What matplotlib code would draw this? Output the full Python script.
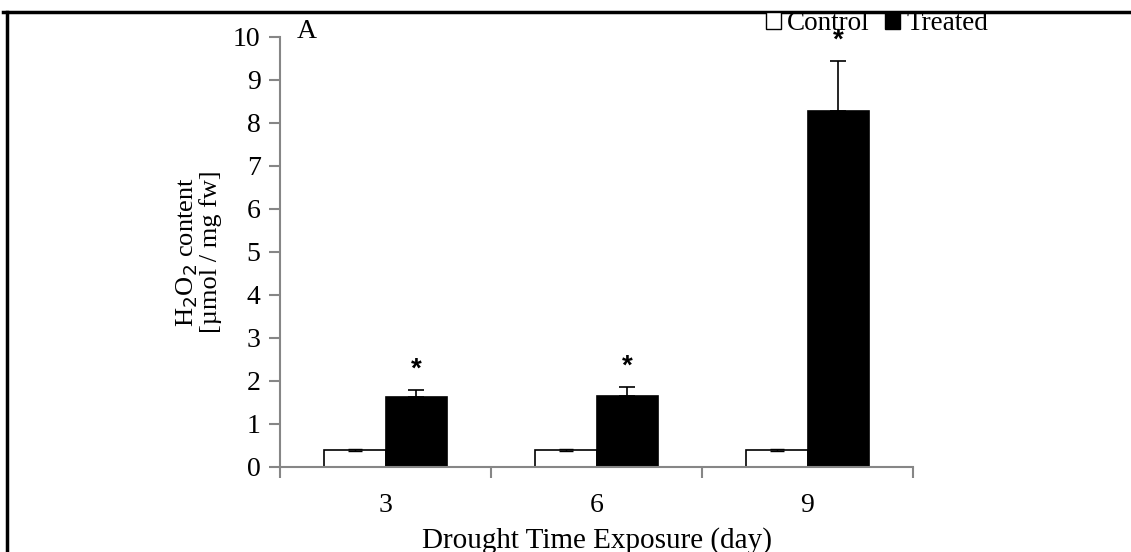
import numpy as np
from matplotlib import pyplot as plt
from matplotlib.lines import Line2D
from matplotlib.patches import Patch

dias = ["3", "6", "9"]
control = [0.40, 0.40, 0.40]
control_err = [0.02, 0.02, 0.02]
tratado = [1.62, 1.65, 8.27]
tratado_err = [0.18, 0.22, 1.18]
significativo = [True, True, True]

plt.rcParams['font.family'] = ['Liberation Serif', 'DejaVu Serif']
gris = '#868686'

fig = plt.figure(figsize=(11.31, 5.52), dpi=100)
ax = fig.add_axes([0.2476, 0.154, 0.5597, 0.779])

x = np.arange(len(dias))
ancho = 0.29
ax.bar(x - ancho / 2, control, ancho, color='white', edgecolor='black', linewidth=1.2,
       yerr=control_err, error_kw=dict(ecolor='black', elinewidth=1, capsize=5, capthick=1))
ax.bar(x + ancho / 2, tratado, ancho, color='black', edgecolor='black', linewidth=1.2,
       yerr=[np.zeros(3), tratado_err], error_kw=dict(ecolor='black', elinewidth=1.2, capsize=6, capthick=1.2))

for i, sig in enumerate(significativo):
    if sig:
        ax.annotate('*', (x[i] + ancho / 2, tratado[i] + tratado_err[i]), xytext=(0, 5),
                    textcoords='offset points', ha='center', va='bottom', fontsize=20,
                    fontweight='bold', family='Liberation Sans', annotation_clip=False)

ax.set_xlim(-0.5, 2.5)
ax.set_ylim(0, 10)
ax.set_yticks(range(0, 11))
ax.set_xticks(x)
ax.set_xticklabels(dias)
ax.set_xticks([-0.5, 0.5, 1.5, 2.5], minor=True)
ax.tick_params(axis='x', which='major', length=0, labelsize=20, pad=19)
ax.tick_params(axis='x', which='minor', length=8, color=gris, width=1.5)
ax.tick_params(axis='y', length=8, color=gris, width=1.5, labelsize=20, pad=6)

for lado in ['top', 'right']:
    ax.spines[lado].set_visible(False)
for lado in ['left', 'bottom']:
    ax.spines[lado].set_color(gris)
    ax.spines[lado].set_linewidth(1.5)

ax.set_ylabel('H$_2$O$_2$ content\n[µmol / mg fw]', fontsize=19, labelpad=8, linespacing=0.95)
ax.set_xlabel('Drought Time Exposure (day)', fontsize=21, labelpad=6)
ax.text(0.027, 1.012, 'A', transform=ax.transAxes, fontsize=20, va='center', ha='left')

manejadores = [Patch(facecolor='white', edgecolor='black', label='Control'),
               Patch(facecolor='black', edgecolor='black', label='Treated')]
fig.legend(handles=manejadores, loc='center left', bbox_to_anchor=(0.677, 0.957), ncol=2,
           frameon=False, fontsize=19.5, handlelength=0.55, handleheight=0.55,
           handletextpad=0.25, columnspacing=0.55, borderpad=0, borderaxespad=0)

# marco recortado de la figura original
fig.add_artist(Line2D([0.003, 1.0], [0.978, 0.978], color='black', linewidth=2.5, transform=fig.transFigure))
fig.add_artist(Line2D([0.0065, 0.0065], [0.0, 0.978], color='black', linewidth=2.5, transform=fig.transFigure))

fig.savefig('out.png', dpi=100)
